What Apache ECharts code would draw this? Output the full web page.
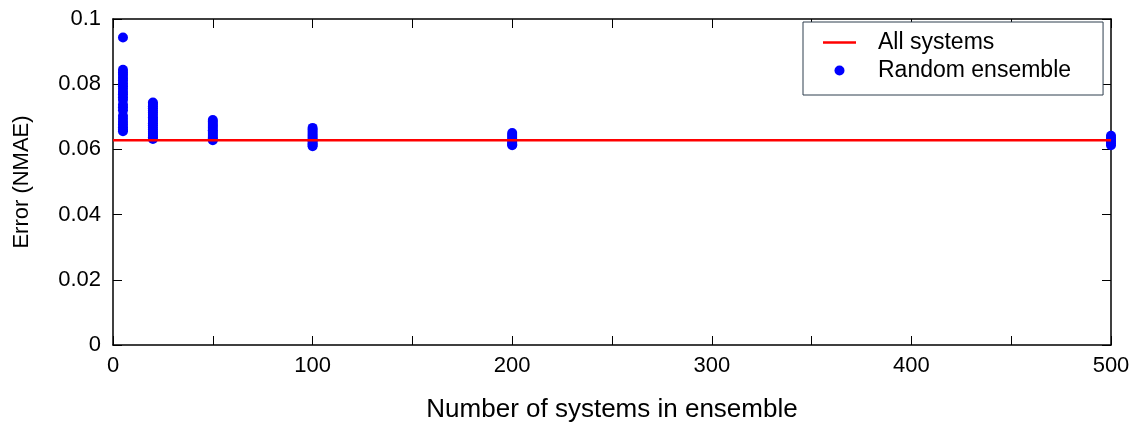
<!DOCTYPE html>
<html>
<head>
<meta charset="utf-8">
<script src="https://cdn.jsdelivr.net/npm/echarts@6/dist/echarts.min.js"></script>
<style>
html,body{margin:0;padding:0;background:#fff;}
#chart{width:1144px;height:430px;}
</style>
</head>
<body>
<div id="chart"></div>
<script>
// Ensemble sizes (x) and the sampled errors at each size (y)
const ensembleSizes = [5, 20, 50, 100, 200, 500];
const errors5   = [0.0943, 0.0844, 0.0836, 0.0828, 0.0819, 0.0811, 0.0802, 0.0794, 0.0786, 0.0777, 0.0769, 0.0760, 0.0752, 0.0738, 0.0729, 0.0720, 0.0703, 0.0694, 0.0685, 0.0676, 0.0668, 0.0661, 0.0656];
const errors20  = [0.0744, 0.0739, 0.0732, 0.0726, 0.0719, 0.0713, 0.0706, 0.0699, 0.0693, 0.0687, 0.0680, 0.0674, 0.0667, 0.0661, 0.0654, 0.0648, 0.0642, 0.0637, 0.0632];
const errors50  = [0.0690, 0.0685, 0.0678, 0.0672, 0.0666, 0.0659, 0.0653, 0.0647, 0.0641, 0.0636, 0.0631, 0.0628];
const errors100 = [0.0666, 0.0660, 0.0654, 0.0647, 0.0641, 0.0635, 0.0629, 0.0624, 0.0618, 0.0614, 0.0610];
const errors200 = [0.0650, 0.0644, 0.0638, 0.0632, 0.0626, 0.0620, 0.0616, 0.0613];
const errors500 = [0.0642, 0.0636, 0.0630, 0.0624, 0.0619, 0.0613];
const allSystemsError = 0.0628;
const xRange = [0, 500];
const yRange = [0, 0.1];
const seriesNames = ['All systems', 'Random ensemble'];
const xTitle = 'Number of systems in ensemble';
const yTitle = 'Error (NMAE)';

const errorGroups = [errors5, errors20, errors50, errors100, errors200, errors500];
const scatterData = [];
ensembleSizes.forEach((n, i) => errorGroups[i].forEach(v => scatterData.push([n, v])));

const FONT = "'Liberation Sans', Arial, sans-serif";
const axisCommon = {
  axisLine: { show: true, onZero: false, lineStyle: { color: '#000', width: 1.5 } },
  axisTick: { show: true, inside: true, length: 9, lineStyle: { color: '#000', width: 1 } },
  splitLine: { show: false }
};

const chart = echarts.init(document.getElementById('chart'), null, { renderer: 'canvas' });
chart.setOption({
  animation: false,
  backgroundColor: '#fff',
  grid: { left: 113, right: 33, top: 19, bottom: 85, containLabel: false },
  legend: {
    left: 803, top: 22, orient: 'vertical',
    padding: [9, 32, 13, 20], itemGap: 5, itemWidth: 33, itemHeight: 10,
    borderColor: '#2f3f4f', borderWidth: 1, backgroundColor: '#fff',
    textStyle: { fontFamily: FONT, fontSize: 23, color: '#000', padding: [0, 0, 0, 17] },
    data: [
      { name: seriesNames[0], icon: 'path://M0 0 H33 V2.5 H0 Z' },
      { name: seriesNames[1], icon: 'circle' }
    ]
  },
  xAxis: [
    Object.assign({
      type: 'value', position: 'bottom', min: xRange[0], max: xRange[1], interval: 50,
      name: xTitle, nameLocation: 'middle', nameGap: 52,
      nameTextStyle: { fontFamily: FONT, fontSize: 26, color: '#000' },
      axisLabel: { fontFamily: FONT, fontSize: 22, color: '#000', margin: 10,
        formatter: v => (v % 100 === 0 ? String(v) : '') }
    }, axisCommon),
    Object.assign({
      type: 'value', position: 'top', min: xRange[0], max: xRange[1], interval: 50,
      axisLabel: { show: false }
    }, axisCommon)
  ],
  yAxis: [
    Object.assign({
      type: 'value', position: 'left', min: yRange[0], max: yRange[1], interval: 0.02,
      name: yTitle, nameLocation: 'middle', nameGap: 80,
      nameTextStyle: { fontFamily: FONT, fontSize: 22, color: '#000' },
      axisLabel: { fontFamily: FONT, fontSize: 22, color: '#000', margin: 12,
        formatter: v => String(+v.toFixed(2)) }
    }, axisCommon),
    Object.assign({
      type: 'value', position: 'right', min: yRange[0], max: yRange[1], interval: 0.02,
      axisLabel: { show: false }
    }, axisCommon)
  ],
  series: [
    {
      name: seriesNames[0], type: 'line', xAxisIndex: 0, yAxisIndex: 0,
      data: [[xRange[0], allSystemsError], [xRange[1], allSystemsError]],
      symbol: 'none', lineStyle: { color: '#ff0000', width: 2.5 }, itemStyle: { color: '#ff0000' }, z: 3
    },
    {
      name: seriesNames[1], type: 'scatter', xAxisIndex: 0, yAxisIndex: 0,
      data: scatterData, symbol: 'circle', symbolSize: 10, clip: false,
      itemStyle: { color: '#0000ff', opacity: 1 }, z: 2
    }
  ]
});
</script>
</body>
</html>
